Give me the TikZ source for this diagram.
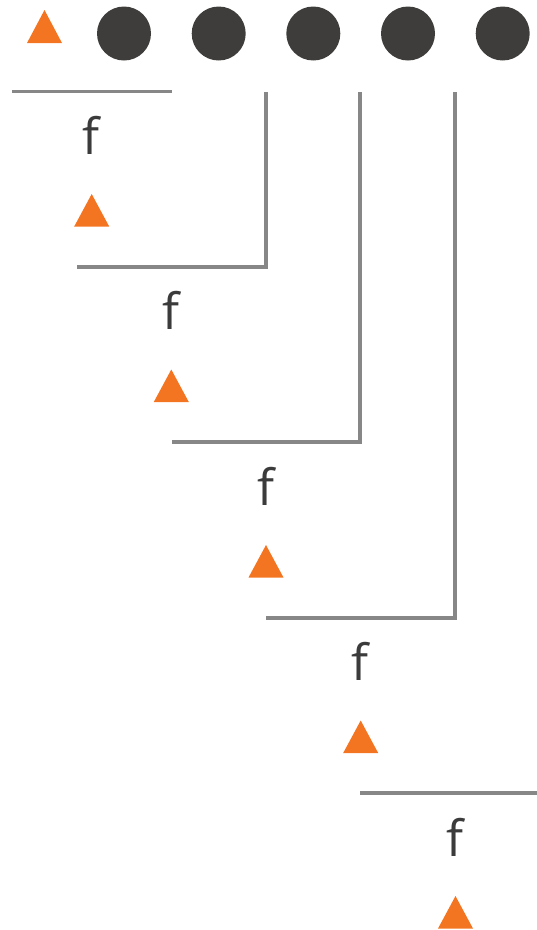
\documentclass[tikz,border=0pt]{standalone}
\usepackage{fontspec}
\setmainfont{Open Sans}
\definecolor{tri}{HTML}{F47521}
\definecolor{dot}{HTML}{3E3D3B}
\definecolor{ln}{HTML}{878787}
\definecolor{txt}{HTML}{3B3B3B}
\begin{document}
\begin{tikzpicture}[x=1pt,y=-1pt,
  dotnode/.style={circle,fill=dot,minimum size=54pt,inner sep=0pt},
  fnode/.style={anchor=base,text=txt,font=\fontsize{50}{60}\selectfont,inner sep=0pt},
  bar/.style={draw=ln,line width=3.6pt},
  tria/.style={fill=tri}]
\useasboundingbox (0,0) rectangle (537,930);
% top row
\fill[tria] (27,43) -- (44.5,10) -- (62,43) -- cycle;
\foreach \i/\x in {1/124,2/218.7,3/313.3,4/408,5/502.7}
  \node[dotnode] (d\i) at (\x,33.5) {};
% lines
\draw[bar] (12,91.3) -- (172,91.3);
\draw[bar] (265.7,92) |- (77,267);
\draw[bar] (360,92) |- (172,442);
\draw[bar] (454.7,92) |- (266,618);
\draw[bar] (360,793) -- (537,793);
% f and triangles
\foreach \k/\cx in {0/91.7,1/171.3,2/266,3/360.7,4/455.5}{
  \pgfmathsetmacro{\cy}{175.5*\k}
  \node[fnode] (f\k) at (\cx-0.5,154+\cy) {f};
  \fill[tria] (\cx-17.5,226.5+\cy) -- (\cx,194+\cy) -- (\cx+17.5,226.5+\cy) -- cycle;
}
\end{tikzpicture}
\end{document}
